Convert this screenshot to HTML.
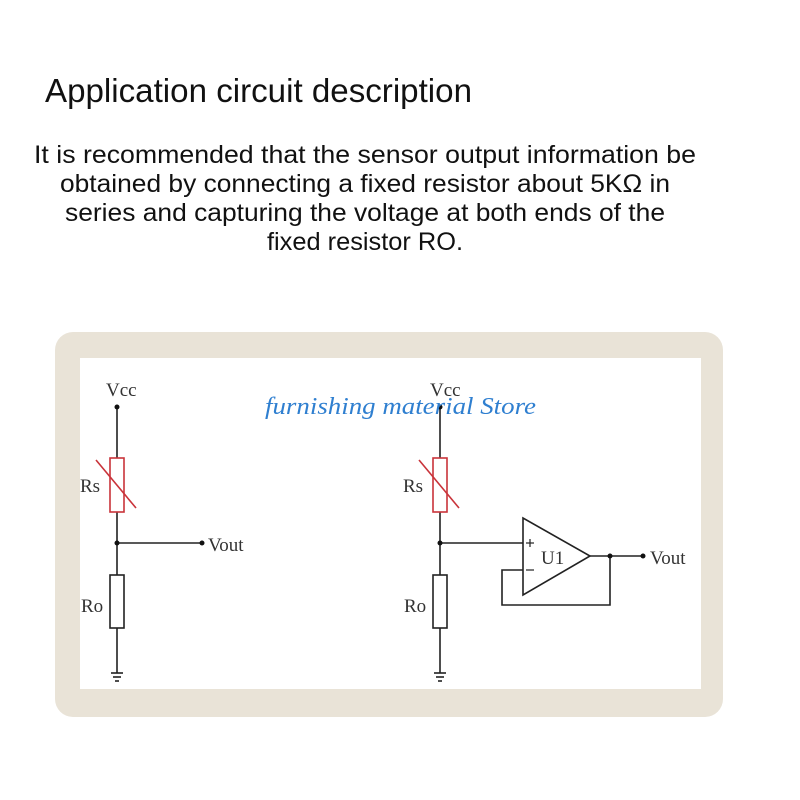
<!DOCTYPE html>
<html><head><meta charset="utf-8"><style>
html,body{margin:0;padding:0;background:#fff;}
svg{display:block;}
</style></head><body>
<svg width="800" height="800" viewBox="0 0 800 800" xmlns="http://www.w3.org/2000/svg">
<rect width="800" height="800" fill="#fff"/>
<g font-family="'Liberation Sans','DejaVu Sans',sans-serif" fill="#111">
<text x="45" y="102" font-size="33" textLength="427" lengthAdjust="spacingAndGlyphs">Application circuit description</text>
<g font-size="25" text-anchor="middle">
<text x="365" y="163" textLength="662" lengthAdjust="spacingAndGlyphs">It is recommended that the sensor output information be</text>
<text x="365" y="192" textLength="610" lengthAdjust="spacingAndGlyphs">obtained by connecting a fixed resistor about 5KΩ in</text>
<text x="365" y="221" textLength="600" lengthAdjust="spacingAndGlyphs">series and capturing the voltage at both ends of the</text>
<text x="365" y="250" textLength="196" lengthAdjust="spacingAndGlyphs">fixed resistor RO.</text>
</g>
</g>
<rect x="55" y="332" width="668" height="385" rx="18" fill="#e9e3d7"/>
<rect x="80" y="358" width="621" height="331" fill="#fff"/>
<g stroke="#222" stroke-width="1.6" fill="none">
<line x1="117" y1="407" x2="117" y2="458"/>
<line x1="117" y1="512" x2="117" y2="575"/>
<line x1="117" y1="628" x2="117" y2="673"/>
<line x1="117" y1="543" x2="202" y2="543"/>
<rect x="110" y="575" width="14" height="53"/>
<line x1="111" y1="673" x2="123" y2="673"/><line x1="113" y1="677" x2="121" y2="677"/><line x1="115" y1="681" x2="119" y2="681"/>
<line x1="440" y1="407" x2="440" y2="458"/>
<line x1="440" y1="512" x2="440" y2="575"/>
<line x1="440" y1="628" x2="440" y2="673"/>
<line x1="440" y1="543" x2="523" y2="543"/>
<rect x="433" y="575" width="14" height="53"/>
<line x1="434" y1="673" x2="446" y2="673"/><line x1="436" y1="677" x2="444" y2="677"/><line x1="438" y1="681" x2="442" y2="681"/>
<polygon points="523,518 523,595 590,556"/>
<line x1="590" y1="556" x2="643" y2="556"/>
<polyline points="610,556 610,605 502,605 502,570 523,570"/>
<line x1="526" y1="543" x2="534" y2="543" stroke-width="1.2"/><line x1="530" y1="539" x2="530" y2="547" stroke-width="1.2"/>
<line x1="526" y1="570" x2="534" y2="570" stroke-width="1.2"/>
</g>
<g stroke="#c9333a" stroke-width="1.6" fill="none">
<rect x="110" y="458" width="14" height="54"/>
<line x1="96" y1="460" x2="136" y2="508"/>
<rect x="433" y="458" width="14" height="54"/>
<line x1="419" y1="460" x2="459" y2="508"/>
</g>
<g fill="#111">
<circle cx="117" cy="407" r="2.5"/><circle cx="117" cy="543" r="2.5"/><circle cx="202" cy="543" r="2.5"/>
<circle cx="440" cy="407" r="2.5"/><circle cx="440" cy="543" r="2.5"/><circle cx="610" cy="556" r="2.5"/><circle cx="643" cy="556" r="2.5"/>
</g>
<g font-family="'Liberation Serif','DejaVu Serif',serif" font-size="19" fill="#333">
<text x="106" y="396">Vcc</text>
<text x="80" y="492">Rs</text>
<text x="208" y="551">Vout</text>
<text x="81" y="612">Ro</text>
<text x="430" y="396">Vcc</text>
<text x="403" y="492">Rs</text>
<text x="404" y="612">Ro</text>
<text x="541" y="564">U1</text>
<text x="650" y="564">Vout</text>
</g>
<text x="265" y="414" font-family="'Liberation Serif','DejaVu Serif',serif" font-style="italic" font-size="24" fill="#2f7fd0" textLength="271" lengthAdjust="spacingAndGlyphs">furnishing material Store</text>
</svg>
</body></html>
